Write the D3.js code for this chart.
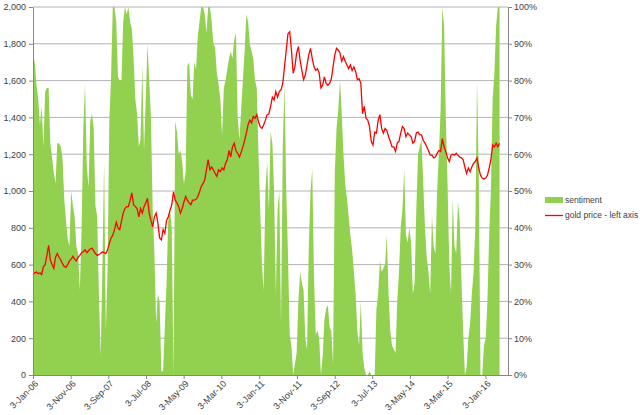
<!DOCTYPE html>
<html>
<head>
<meta charset="utf-8">
<script src="https://cdn.jsdelivr.net/npm/d3@7/dist/d3.min.js"></script>
<style>
body { margin: 0; background: #fff; }
svg text { font-family: "Liberation Sans", Arial, sans-serif; fill: #404040; }
</style>
</head>
<body>
<script>
// fortnightly readings starting 3-Jan-06
const startDate = "2006-01-03"
const stepDays = 14

// sentiment, % (right axis)
const sentiment = [
  87, 85, 79, 75, 68, 73, 62, 77, 78, 78,
  63, 59, 55, 52, 63, 63, 62, 59, 48, 42,
  37, 35, 50, 46, 43, 35, 33, 23, 39, 67,
  79, 57, 51, 69, 71, 67, 46, 43, 22, 5,
  29, 58, 12, 29, 69, 81, 100, 100, 96, 81,
  80, 80, 96, 100, 98, 100, 96, 94, 86, 75,
  71, 62, 64, 84, 61, 75, 90, 80, 70, 45,
  33, 14, 22, 20, 1, 1, 13, 25, 43, 45,
  40, 0, 69, 66, 60, 61, 58, 52, 55, 84,
  85, 76, 75, 85, 83, 92, 96, 100, 100, 98,
  93, 100, 100, 96, 90, 89, 82, 79, 75, 65,
  78, 80, 83, 86, 88, 86, 91, 93, 70, 64,
  72, 80, 88, 98, 96, 90, 88, 86, 80, 78,
  60, 45, 30, 23, 50, 58, 45, 66, 63, 50,
  22, 45, 50, 14, 62, 79, 50, 33, 11, 8,
  0, 3, 6, 20, 28, 25, 23, 10, 7, 35,
  50, 56, 27, 11, 12, 10, 0, 5, 15, 18,
  19, 13, 12, 3, 55, 67, 72, 80, 71, 60,
  52, 48, 43, 38, 34, 28, 22, 12, 8, 20,
  6, 2, 0, 0, 1, 0, 0, 0, 18, 22,
  31, 28, 29, 30, 38, 22, 12, 8, 7, 6,
  20, 28, 40, 45, 56, 38, 36, 40, 36, 22,
  25, 45, 60, 62, 64, 52, 40, 32, 28, 22,
  43, 35, 33, 50, 60, 72, 100, 95, 70, 52,
  30, 22, 48, 35, 33, 47, 42, 26, 12, 0,
  2, 10, 14, 22, 28, 40, 80, 55, 0, 0,
  8, 10, 20, 38, 50, 75, 82, 95, 100, 100
]

// gold price, USD (left axis)
const goldPrice = [
  545, 555, 560, 550, 555, 545, 590, 600, 650, 705,
  625, 600, 580, 640, 660, 640, 625, 605, 590, 585,
  600, 620, 630, 645, 630, 620, 640, 650, 665, 670,
  680, 665, 675, 685, 690, 675, 660, 650, 655, 660,
  670, 665, 660, 680, 715, 745, 760, 790, 830, 800,
  790, 835, 880, 905, 915, 915, 950, 990, 925, 915,
  905, 860, 905, 880, 915, 935, 960, 880, 840, 805,
  860, 880, 825, 745, 735, 790, 770, 840, 860, 895,
  925, 995, 950, 935, 915, 880, 905, 940, 970, 950,
  935, 925, 950, 950, 955, 970, 995, 1025, 1040, 1060,
  1115, 1170, 1115, 1130, 1115, 1095, 1080, 1115, 1105, 1125,
  1115, 1150, 1170, 1220, 1185, 1240, 1260, 1220, 1205, 1185,
  1210, 1240, 1275, 1315, 1360, 1385, 1370, 1405, 1395, 1415,
  1375, 1350, 1340, 1360, 1385, 1415, 1420, 1460, 1510, 1495,
  1540, 1510, 1540, 1550, 1585, 1675, 1765, 1855, 1865, 1765,
  1640, 1675, 1750, 1785, 1710, 1655, 1605, 1630, 1685, 1740,
  1775, 1720, 1675, 1655, 1665, 1640, 1560, 1575, 1620, 1585,
  1575, 1585, 1610, 1675, 1740, 1775, 1765, 1750, 1705, 1730,
  1705, 1685, 1665, 1685, 1655, 1675, 1650, 1605, 1610, 1585,
  1420, 1460, 1395, 1385, 1350, 1270, 1250, 1320, 1315, 1385,
  1415, 1340, 1315, 1340, 1330, 1295, 1270, 1240, 1240, 1215,
  1260, 1270, 1315, 1350, 1340, 1295, 1315, 1305, 1295, 1260,
  1270, 1315, 1320, 1305, 1305, 1275, 1260, 1240, 1220, 1195,
  1195, 1180, 1185, 1205, 1220, 1215, 1285, 1240, 1215, 1180,
  1160, 1195, 1200, 1195, 1205, 1195, 1185, 1180, 1170, 1130,
  1095, 1125, 1105, 1130, 1150, 1160, 1180, 1125, 1085, 1070,
  1065, 1070, 1085, 1125, 1170, 1250, 1240, 1260, 1240, 1260
]

const tickLabels = ["3-Jan-06", "3-Nov-06", "3-Sep-07", "3-Jul-08", "3-May-09", "3-Mar-10",
  "3-Jan-11", "3-Nov-11", "3-Sep-12", "3-Jul-13", "3-May-14", "3-Mar-15", "3-Jan-16"]
const axisEnd = "2016-07-03"
const leftTicks = [0, 200, 400, 600, 800, 1000, 1200, 1400, 1600, 1800, 2000]
const rightTicks = [0, 10, 20, 30, 40, 50, 60, 70, 80, 90, 100]
const legendLabels = ["sentiment", "gold price - left axis"]

const width = 640, height = 415
const plot = {left: 33, right: 508, top: 7, bottom: 375}

const parseIso = d3.timeParse("%Y-%m-%d")
const parseTick = d3.timeParse("%d-%b-%y")
const start = parseIso(startDate)

const data = sentiment.map(function(s, i) {
  return {date: d3.timeDay.offset(start, i * stepDays), sentiment: s, gold: goldPrice[i]}
})

const svg = d3.select("body").append("svg")
  .attr("width", width)
  .attr("height", height)

const x = d3.scaleTime()
  .domain([start, parseIso(axisEnd)])
  .range([plot.left, plot.right])

const yLeft = d3.scaleLinear()
  .domain([0, 2000])
  .range([plot.bottom, plot.top])

const yRight = d3.scaleLinear()
  .domain([0, 100])
  .range([plot.bottom, plot.top])

// gridlines
svg.append("g")
  .selectAll("line")
  .data(leftTicks.slice(1))
  .enter().append("line")
  .attr("x1", plot.left)
  .attr("x2", plot.right)
  .attr("y1", d => yLeft(d))
  .attr("y2", d => yLeft(d))
  .attr("stroke", "#b3b3b3")
  .attr("stroke-width", 1)

// sentiment area
const area = d3.area()
  .x(d => x(d.date))
  .y0(yRight(0))
  .y1(d => yRight(d.sentiment))

svg.append("path")
  .attr("d", area(data))
  .attr("fill", "#92d050")

// gold line
const line = d3.line()
  .x(d => x(d.date))
  .y(d => yLeft(d.gold))

svg.append("path")
  .attr("d", line(data))
  .attr("fill", "none")
  .attr("stroke", "#ff0000")
  .attr("stroke-width", 1.3)

// axes
function styleAxis(g) {
  g.selectAll("path, line").attr("stroke", "#868686")
  g.selectAll("text").style("font-size", "9px").attr("fill", "#404040")
}

svg.append("g")
  .attr("transform", "translate(" + plot.left + ",0)")
  .call(d3.axisLeft(yLeft).tickValues(leftTicks).tickFormat(d3.format(",")).tickSize(4).tickSizeOuter(0).tickPadding(3))
  .call(styleAxis)

svg.append("g")
  .attr("transform", "translate(" + plot.right + ",0)")
  .call(d3.axisRight(yRight).tickValues(rightTicks).tickFormat(d => d + "%").tickSize(4).tickSizeOuter(0).tickPadding(2))
  .call(styleAxis)

const tickDates = tickLabels.map(t => parseTick(t))
const xAxis = svg.append("g")
  .attr("transform", "translate(0," + plot.bottom + ")")
  .call(d3.axisBottom(x).tickValues(tickDates).tickFormat((d, i) => tickLabels[i]).tickSize(4).tickSizeOuter(0))
  .call(styleAxis)

xAxis.selectAll("text")
  .attr("x", 0)
  .attr("y", 0)
  .attr("dy", "0.35em")
  .attr("transform", "translate(3,7) rotate(-45)")
  .style("text-anchor", "end")

// legend
const legend = svg.append("g").attr("transform", "translate(545,0)")
legend.append("rect")
  .attr("x", 0).attr("y", 197)
  .attr("width", 18).attr("height", 6)
  .attr("fill", "#92d050")
legend.append("line")
  .attr("x1", 0).attr("x2", 18)
  .attr("y1", 215.5).attr("y2", 215.5)
  .attr("stroke", "#ff0000")
  .attr("stroke-width", 1.3)
legend.selectAll(".label")
  .data(legendLabels)
  .enter().append("text")
  .attr("class", "label")
  .attr("x", 20)
  .attr("y", (d, i) => 200 + i * 15.5)
  .attr("dy", "0.35em")
  .style("font-size", "8.5px")
  .text(d => d)
</script>
</body>
</html>
